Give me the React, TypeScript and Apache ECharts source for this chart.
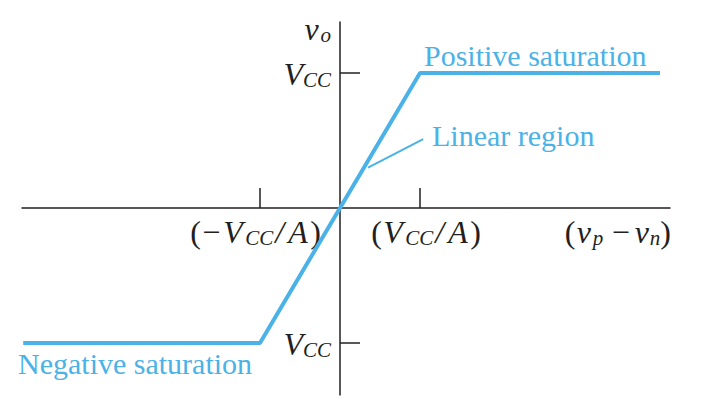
import React, { useEffect, useRef } from 'react';
import * as echarts from 'echarts';

// ---- data (x in units of Vcc/A, y in units of Vcc) ----
const transferX = [-3.96, -1, 1, 4.0];
const transferY = [-1, -1, 1, 1];
const leaderX = [0.35, 1.04];
const leaderY = [0.3, 0.51];
const xTickValues = [-1, 1];
const xTickLabels = [
  '{lp|(}{m|−}{V|V}{sx|CC}{sl|/}{A|A}{rp|)}',
  '{lp|(}{V|V}{sx|CC}{sl|/}{A|A}{rp|)}',
];
const yTickValues = [-1, 1];
const yTickLabels = ['{Vn|V}{s|CC}', '{Vn|V}{s|CC}'];
const xAxisName = '{lp|(}{v|v}{sp|p}{m2| −}{vn|v}{s|n}{rp|)}';
const yAxisName = '{v|v}{s|o}';
const regionLabels = ['Positive saturation', 'Linear region', 'Negative saturation'];

const SERIF = '"Liberation Serif", "Times New Roman", serif';
const BLUE = '#4ab2e6';
const AXIS = '#231f20';

const base = { fontFamily: SERIF, fontSize: 32, lineHeight: 32, fill: AXIS, color: AXIS, align: 'left' };
const ital = { ...base, fontStyle: 'italic' };
const sub = { ...ital, fontSize: 21, lineHeight: 14, verticalAlign: 'bottom' };
const mathRich: any = {
  lp: { ...base, width: 12 },
  rp: { ...base },
  m: { ...base, width: 21 },
  m2: { ...base, width: 31 },
  V: { ...ital, width: 22 },
  Vn: { ...ital },
  A: { ...ital, width: 22 },
  v: { ...ital, width: 16 },
  vn: { ...ital, width: 15 },
  s: { ...sub },
  sx: { ...sub, width: 30 },
  sp: { ...sub, width: 11 },
  sl: { ...ital, width: 13 },
};

function toPairs(xs: number[], ys: number[]) {
  return xs.map((x, i) => [x, ys[i]]);
}

export default function App() {
  const ref = useRef<HTMLDivElement>(null);
  useEffect(() => {
    const chart = echarts.init(ref.current!, null, { renderer: 'svg' });
    const option: any = {
      animation: false,
      backgroundColor: '#ffffff',
      grid: { left: 22, right: 38, top: 22, bottom: 19, containLabel: false, outerBoundsMode: 'none' },
      xAxis: {
        type: 'value',
        min: -3.975,
        max: 4.125,
        splitLine: { show: false },
        axisLine: { show: true, onZero: true, lineStyle: { color: AXIS, width: 1.5 } },
        axisTick: { show: true, inside: true, length: 20, customValues: xTickValues, lineStyle: { color: AXIS, width: 1.5 } },
        axisLabel: { show: false },
      },
      yAxis: {
        type: 'value',
        min: -1.385,
        max: 1.378,
        splitLine: { show: false },
        axisLine: { show: true, onZero: true, lineStyle: { color: AXIS, width: 1.5 } },
        axisTick: { show: true, inside: true, length: 20, customValues: yTickValues, lineStyle: { color: AXIS, width: 1.5 } },
        axisLabel: { show: false },
      },
      series: [
        {
          type: 'line',
          data: toPairs(transferX, transferY),
          symbol: 'none',
          lineStyle: { color: BLUE, width: 4 },
          z: 5,
        },
        {
          type: 'line',
          data: toPairs(leaderX, leaderY),
          symbol: 'none',
          lineStyle: { color: BLUE, width: 2 },
          z: 5,
        },
      ],
    };
    chart.setOption(option);

    const origin = chart.convertToPixel({ gridIndex: 0 }, [0, 0]) as number[];
    const graphics: any[] = [];
    xTickValues.forEach((v, i) => {
      const p = chart.convertToPixel({ gridIndex: 0 }, [v, 0]) as number[];
      graphics.push({
        type: 'text', x: p[0] + 61, y: origin[1] + 8,
        style: { text: xTickLabels[i], rich: mathRich, align: 'right', verticalAlign: 'top', textAlign: 'right', textVerticalAlign: 'top' },
      });
    });
    yTickValues.forEach((v, i) => {
      const p = chart.convertToPixel({ gridIndex: 0 }, [0, v]) as number[];
      graphics.push({
        type: 'text', x: origin[0] - 9, y: p[1] + 1,
        style: { text: yTickLabels[i], rich: mathRich, align: 'right', verticalAlign: 'middle', textAlign: 'right', textVerticalAlign: 'middle' },
      });
    });
    graphics.push(
      {
        type: 'text', x: origin[0] - 9, y: 29,
        style: { text: yAxisName, rich: mathRich, align: 'right', verticalAlign: 'middle', textAlign: 'right', textVerticalAlign: 'middle' },
      },
      {
        type: 'text', x: 671, y: origin[1] + 8,
        style: { text: xAxisName, rich: mathRich, align: 'right', verticalAlign: 'top', textAlign: 'right', textVerticalAlign: 'top' },
      },
      {
        type: 'text', x: 424, y: 55,
        style: { text: regionLabels[0], fontFamily: SERIF, fontSize: 30, fill: BLUE, align: 'left', verticalAlign: 'middle', textAlign: 'left', textVerticalAlign: 'middle' },
      },
      {
        type: 'text', x: 432, y: 135,
        style: { text: regionLabels[1], fontFamily: SERIF, fontSize: 30, fill: BLUE, align: 'left', verticalAlign: 'middle', textAlign: 'left', textVerticalAlign: 'middle' },
      },
      {
        type: 'text', x: 18, y: 363,
        style: { text: regionLabels[2], fontFamily: SERIF, fontSize: 30, fill: BLUE, align: 'left', verticalAlign: 'middle', textAlign: 'left', textVerticalAlign: 'middle' },
      },
    );
    chart.setOption({ graphic: graphics });
    return () => chart.dispose();
  }, []);
  return (
    <div
      ref={ref}
      style={{ position: 'fixed', left: 0, top: 0, width: 708, height: 414, background: '#fff' }}
    />
  );
}
